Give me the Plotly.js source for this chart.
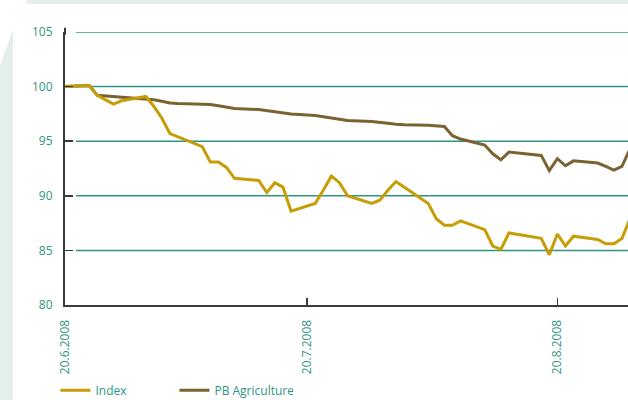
<!DOCTYPE html>
<html>
<head>
<meta charset="utf-8">
<script src="https://cdn.plot.ly/plotly-3.0.1.min.js"></script>
<style>
  html, body { margin: 0; padding: 0; background: #ffffff; }
  #chart { width: 628px; height: 400px; }
</style>
</head>
<body>
<div id="chart"></div>
<script>
// ---- data ----
const dates = [
  '2008-06-20','2008-06-23','2008-06-24','2008-06-25','2008-06-26','2008-06-27','2008-06-30',
  '2008-07-01','2008-07-02','2008-07-03','2008-07-04','2008-07-07','2008-07-08','2008-07-09','2008-07-10','2008-07-11',
  '2008-07-14','2008-07-15','2008-07-16','2008-07-17','2008-07-18','2008-07-21','2008-07-22','2008-07-23','2008-07-24','2008-07-25',
  '2008-07-28','2008-07-29','2008-07-30','2008-07-31',
  '2008-08-01','2008-08-04','2008-08-05','2008-08-06','2008-08-07','2008-08-08','2008-08-11','2008-08-12','2008-08-13','2008-08-14',
  '2008-08-18','2008-08-19','2008-08-20','2008-08-21','2008-08-22','2008-08-25','2008-08-26','2008-08-27','2008-08-28','2008-08-29'
];
const indexValues = [
  100.0, 100.1, 99.2, 98.8, 98.4, 98.7, 99.1,
  98.2, 97.1, 95.7, 95.4, 94.5, 93.1, 93.1, 92.6, 91.6,
  91.4, 90.3, 91.2, 90.8, 88.6, 89.3, 90.5, 91.8, 91.2, 90.0,
  89.3, 89.6, 90.5, 91.3,
  90.8, 89.3, 87.9, 87.3, 87.3, 87.7, 86.9, 85.4, 85.1, 86.6,
  86.1, 84.6, 86.5, 85.4, 86.3, 86.0, 85.6, 85.6, 86.1, 87.9
];
const agricultureValues = [
  100.0, 100.1, 99.2, 99.15, 99.1, 99.0, 98.9,
  98.8, 98.65, 98.5, 98.45, 98.4, 98.35, 98.25, 98.1, 98.0,
  97.9, 97.8, 97.7, 97.6, 97.5, 97.35, 97.25, 97.1, 97.0, 96.9,
  96.8, 96.75, 96.65, 96.55,
  96.5, 96.45, 96.4, 96.35, 95.5, 95.2, 94.65, 93.85, 93.3, 94.0,
  93.7, 92.3, 93.4, 92.75, 93.2, 93.0, 92.7, 92.35, 92.7, 94.3
];
const seriesNames = ['Index', 'PB Agriculture'];
const yTickValues = [80, 85, 90, 95, 100, 105];
const xTickValues = ['2008-06-20', '2008-07-20', '2008-08-20'];
const xTickLabels = ['20.6.2008', '20.7.2008', '20.8.2008'];

// ---- style ----
const GOLD = '#c69d06';
const BROWN = '#7b6331';
const TEAL = '#2f9483';
const AXIS = '#3a3a3a';
const MINT = '#e4efec';
const FONT = '"Open Sans", "Noto Sans", sans-serif';

const traces = [
  {
    x: dates, y: agricultureValues, name: seriesNames[1], type: 'scatter', mode: 'lines',
    line: { color: BROWN, width: 3 }, legendrank: 2
  },
  {
    x: dates, y: indexValues, name: seriesNames[0], type: 'scatter', mode: 'lines',
    line: { color: GOLD, width: 3 }, legendrank: 1
  }
];

// gridlines (start a little right of the axis, as in the reference)
const gridShapes = yTickValues.filter(v => v > yTickValues[0]).map(v => ({
  type: 'line', xref: 'paper', yref: 'y', x0: 0.0195, x1: 1, y0: v, y1: v,
  line: { color: TEAL, width: 1.5 }, layer: 'below'
}));

// decorative background frame + slight extension of the y axis line
const decoShapes = [
  { type: 'path', xref: 'paper', yref: 'paper', layer: 'below', fillcolor: MINT, line: { width: 0 },
    path: 'M -0.0675 1.1172 L 1.0 1.1172 L 1.0 1.1026 L -0.0702 1.1026 Z' },
  { type: 'path', xref: 'paper', yref: 'paper', layer: 'below', fillcolor: MINT, line: { width: 0 },
    path: 'M -0.1155 0.8791 L -0.0924 1.0073 L -0.0924 -0.3480 L -0.1155 -0.3480 Z' },
  { type: 'line', xref: 'paper', yref: 'paper', x0: 0, x1: 0, y0: 0.99, y1: 1.016,
    line: { color: AXIS, width: 2 } }
];

const layout = {
  width: 628, height: 400,
  margin: { l: 65, r: 0, t: 32, b: 95, pad: 0, autoexpand: false },
  paper_bgcolor: '#ffffff', plot_bgcolor: 'rgba(0,0,0,0)',
  font: { family: FONT, size: 12, color: TEAL },
  showlegend: true,
  legend: {
    orientation: 'h', x: -0.017, xanchor: 'left', y: -0.312, yanchor: 'middle',
    entrywidth: 74, entrywidthmode: 'pixels',
    font: { family: FONT, size: 12, color: TEAL }, bgcolor: 'rgba(0,0,0,0)'
  },
  xaxis: {
    type: 'date', range: ['2008-06-20', '2008-08-28 18:00'], automargin: false,
    tickmode: 'array', tickvals: xTickValues, ticktext: xTickLabels, tickangle: -90,
    ticks: 'inside', ticklen: 7, tickwidth: 1.5, tickcolor: AXIS,
    showgrid: false, zeroline: false,
    showline: true, linecolor: AXIS, linewidth: 2,
    tickfont: { family: FONT, size: 12, color: TEAL },
    ticklabelstandoff: 8
  },
  yaxis: {
    range: [80, 105], tickmode: 'array', tickvals: yTickValues, automargin: false,
    ticks: 'inside', ticklen: 8, tickwidth: 1.5, tickcolor: AXIS,
    showgrid: false, zeroline: false,
    showline: true, linecolor: AXIS, linewidth: 2,
    tickfont: { family: FONT, size: 12, color: TEAL },
    ticklabelstandoff: 8
  },
  shapes: decoShapes.concat(gridShapes)
};

Plotly.newPlot('chart', traces, layout, { displayModeBar: false, staticPlot: true });
</script>
</body>
</html>
